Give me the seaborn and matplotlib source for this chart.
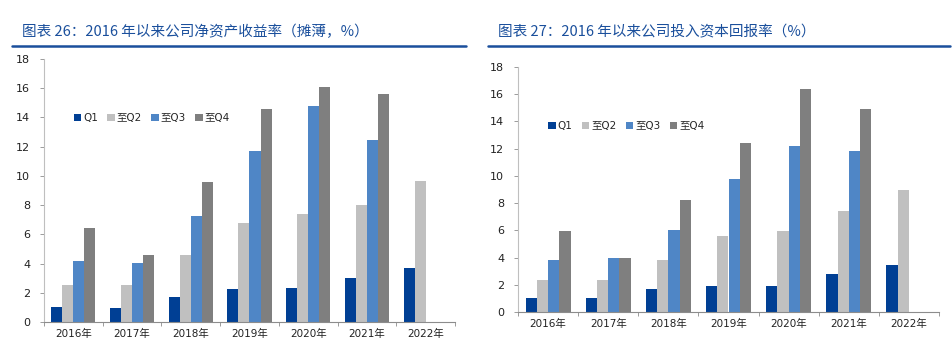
import matplotlib
matplotlib.use("Agg")
import matplotlib.pyplot as plt
from matplotlib.lines import Line2D
import seaborn as sns
import pandas as pd
import numpy as np

years = ["2016年", "2017年", "2018年", "2019年", "2020年", "2021年", "2022年"]
series = ["Q1", "至Q2", "至Q3", "至Q4"]

roe_q1 = [1.00, 0.95, 1.68, 2.27, 2.34, 3.00, 3.70]
roe_q2 = [2.50, 2.55, 4.57, 6.75, 7.41, 8.00, 9.68]
roe_q3 = [4.18, 4.05, 7.23, 11.73, 14.78, 12.48, np.nan]
roe_q4 = [6.41, 4.61, 9.55, 14.60, 16.06, 15.58, np.nan]

roic_q1 = [1.05, 1.00, 1.66, 1.88, 1.91, 2.79, 3.47]
roic_q2 = [2.32, 2.37, 3.79, 5.57, 5.94, 7.41, 8.95]
roic_q3 = [3.79, 3.96, 6.01, 9.78, 12.20, 11.80, np.nan]
roic_q4 = [5.97, 3.99, 8.26, 12.44, 16.37, 14.93, np.nan]

yticks = [0, 2, 4, 6, 8, 10, 12, 14, 16, 18]
colors = ["#003f94", "#c0c0c0", "#4f86c6", "#7f7f7f"]
title_left = "图表 26：2016 年以来公司净资产收益率（摊薄，%）"
title_right = "图表 27：2016 年以来公司投入资本回报率（%）"

sns.set_theme(style="white")
plt.rcParams["font.family"] = ["DejaVu Sans", "Noto Sans CJK SC"]


def make_df(vals):
    rows = []
    for s, v in zip(series, vals):
        for y, x in zip(years, v):
            if not np.isnan(x):
                rows.append({"year": y, "series": s, "value": x})
    return pd.DataFrame(rows)


fig = plt.figure(figsize=(9.52, 3.39), dpi=100)
W, H = 952, 339


def draw(rect, df, title, title_x, line_x0, line_x1, legend_y):
    x0, y0, x1, y1 = rect
    ax = fig.add_axes([x0 / W, 1 - y1 / H, (x1 - x0) / W, (y1 - y0) / H])
    sns.barplot(data=df, x="year", y="value", hue="series", order=years,
                hue_order=series, palette=colors, width=0.75, ax=ax,
                saturation=1, errorbar=None, linewidth=0)
    ax.set_ylim(0, 18)
    ax.set_xlim(-0.5, len(years) - 0.5)
    ax.set_yticks(yticks)
    ax.set_yticklabels([str(t) for t in yticks])
    ax.set_xlabel("")
    ax.set_ylabel("")
    for s in ["top", "right"]:
        ax.spines[s].set_visible(False)
    ax.spines["left"].set_color("#bfbfbf")
    ax.spines["bottom"].set_color("#8c8c8c")
    ax.spines["left"].set_linewidth(0.8)
    ax.spines["bottom"].set_linewidth(0.8)
    ax.tick_params(axis="y", which="major", left=True, length=3, width=0.6,
                   color="#8c8c8c", labelsize=8, labelcolor="#222222", pad=7)
    ax.tick_params(axis="x", which="major", bottom=False, length=0,
                   labelsize=7.5, labelcolor="#222222", pad=5)
    ax.set_xticks(np.arange(-0.5, len(years) + 0.5, 1), minor=True)
    ax.tick_params(axis="x", which="minor", bottom=True, length=3, width=0.6,
                   color="#8c8c8c")
    ax.legend(loc="upper left", bbox_to_anchor=(0.062, legend_y), ncol=4,
              frameon=False, fontsize=7.5, handlelength=0.7, handleheight=0.7,
              handletextpad=0.2, columnspacing=0.9, borderaxespad=0)
    fig.text(title_x / W, 1 - 32 / H, title, color="#1a4f9c", fontsize=10.5,
             style="italic", va="center", ha="left",
             family=["Noto Sans CJK SC", "DejaVu Sans"])
    fig.add_artist(Line2D([line_x0 / W, line_x1 / W], [1 - 46 / H, 1 - 46 / H],
                          color="#1a4f9c", linewidth=1.8,
                          transform=fig.transFigure))
    return ax


draw((44, 59, 455, 322), make_df([roe_q1, roe_q2, roe_q3, roe_q4]),
     title_left, 22, 12, 466, 0.81)
draw((518, 67, 939, 312), make_df([roic_q1, roic_q2, roic_q3, roic_q4]),
     title_right, 498, 488, 950, 0.795)

fig.savefig("out.png", dpi=100)
